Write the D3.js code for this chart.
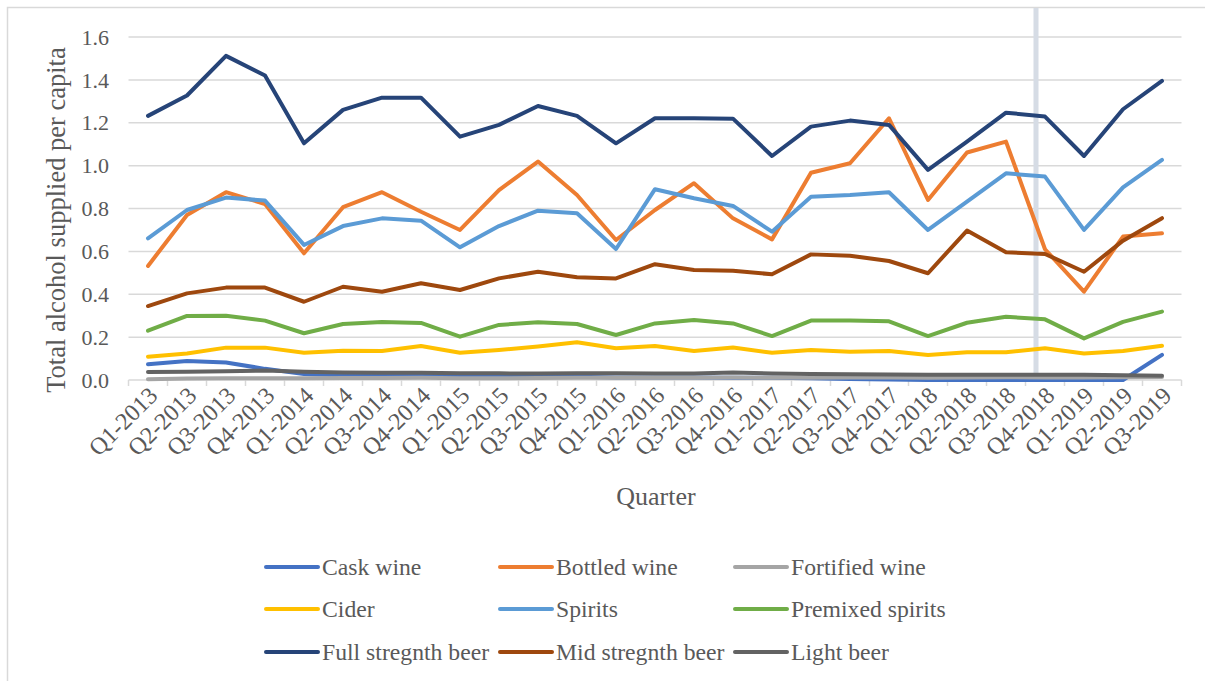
<!DOCTYPE html>
<html lang="en">
<head>
  <meta charset="UTF-8">
  <title>Total alcohol supplied per capita</title>
  <script src="https://d3js.org/d3.v7.min.js"></script>
  <style>
    body { margin: 0; background: #fff; }
    text { font-family: "Liberation Serif", "Times New Roman", serif; fill: #595959; }
  </style>
</head>
<body>
  <script>
    var quarters = ["Q1-2013","Q2-2013","Q3-2013","Q4-2013","Q1-2014","Q2-2014","Q3-2014","Q4-2014",
                    "Q1-2015","Q2-2015","Q3-2015","Q4-2015","Q1-2016","Q2-2016","Q3-2016","Q4-2016",
                    "Q1-2017","Q2-2017","Q3-2017","Q4-2017","Q1-2018","Q2-2018","Q3-2018","Q4-2018",
                    "Q1-2019","Q2-2019","Q3-2019"];

    var caskWine = [0.073,0.089,0.082,0.052,0.028,0.022,0.020,0.020,0.016,0.015,0.015,0.015,0.012,0.012,
                    0.012,0.010,0.010,0.008,0.005,0.002,0.000,0.000,0.000,0.000,0.000,0.000,0.117];
    var bottledWine = [0.532,0.770,0.876,0.821,0.591,0.806,0.876,0.785,0.700,0.886,1.019,0.863,0.653,0.793,
                       0.918,0.754,0.656,0.967,1.011,1.221,0.840,1.061,1.112,0.610,0.412,0.669,0.684];
    var fortifiedWine = [0.004,0.007,0.008,0.008,0.008,0.009,0.009,0.010,0.008,0.008,0.009,0.010,0.010,0.010,
                         0.011,0.012,0.010,0.010,0.012,0.012,0.011,0.012,0.013,0.012,0.012,0.013,0.014];
    var cider = [0.109,0.124,0.151,0.151,0.127,0.137,0.135,0.159,0.127,0.140,0.156,0.176,0.148,0.159,
                 0.135,0.152,0.127,0.140,0.132,0.135,0.117,0.129,0.129,0.148,0.124,0.135,0.160];
    var spirits = [0.661,0.793,0.851,0.837,0.630,0.718,0.754,0.743,0.619,0.718,0.790,0.778,0.611,0.890,
                   0.848,0.812,0.692,0.855,0.863,0.876,0.700,0.832,0.964,0.949,0.700,0.899,1.027];
    var premixedSpirits = [0.230,0.299,0.300,0.277,0.218,0.261,0.271,0.266,0.202,0.257,0.269,0.261,0.210,0.264,
                           0.280,0.264,0.205,0.277,0.278,0.274,0.205,0.267,0.295,0.283,0.194,0.271,0.319];
    var fullBeer = [1.232,1.327,1.512,1.420,1.104,1.260,1.317,1.317,1.135,1.190,1.278,1.232,1.104,1.221,
                    1.221,1.219,1.045,1.182,1.210,1.190,0.980,1.112,1.247,1.229,1.045,1.263,1.395];
    var midBeer = [0.345,0.404,0.431,0.431,0.365,0.435,0.412,0.451,0.420,0.474,0.505,0.479,0.474,0.540,
                   0.513,0.510,0.493,0.586,0.580,0.555,0.498,0.697,0.596,0.588,0.505,0.650,0.755];
    var lightBeer = [0.037,0.038,0.041,0.044,0.038,0.035,0.034,0.034,0.032,0.031,0.030,0.032,0.031,0.030,
                     0.030,0.035,0.030,0.028,0.027,0.026,0.025,0.025,0.025,0.025,0.024,0.022,0.020];

    var seriesNames = ["Cask wine","Bottled wine","Fortified wine","Cider","Spirits","Premixed spirits",
                       "Full stregnth beer","Mid stregnth beer","Light beer"];
    var seriesValues = [caskWine, bottledWine, fortifiedWine, cider, spirits, premixedSpirits,
                        fullBeer, midBeer, lightBeer];
    var seriesColors = ["#4472C4","#ED7D31","#A5A5A5","#FFC000","#5B9BD5","#70AD47",
                        "#264478","#9E480E","#636363"];
    var yTicks = [0, 0.2, 0.4, 0.6, 0.8, 1.0, 1.2, 1.4, 1.6];
    var markerQuarter = "Q4-2018";

    var series = seriesNames.map(function(name, i) {
      return { name: name, values: seriesValues[i], color: seriesColors[i] };
    });

    var width = 1205, height = 681;
    var svg = d3.select("body").append("svg")
                .attr("width", width)
                .attr("height", height);

    // chart frame
    svg.append("rect")
       .attr("x", 7.5).attr("y", 7.5)
       .attr("width", 1230).attr("height", 700)
       .style("fill", "none")
       .style("stroke", "#D9D9D9")
       .style("stroke-width", 1.5);

    var x = d3.scalePoint().domain(quarters).range([148, 1162]);
    var step = x.step();
    var y = d3.scaleLinear().domain([0, 1.6]).range([380, 37]);
    var left = x(quarters[0]) - step / 2;
    var right = x(quarters[quarters.length - 1]) + step / 2;

    // gridlines
    svg.append("g")
       .selectAll("line")
       .data(yTicks)
       .enter()
       .append("line")
       .attr("x1", left).attr("x2", right)
       .attr("y1", d => y(d)).attr("y2", d => y(d))
       .style("stroke", "#D9D9D9")
       .style("stroke-width", 1.5);

    // y tick labels
    svg.append("g")
       .selectAll("text")
       .data(yTicks)
       .enter()
       .append("text")
       .attr("x", 109)
       .attr("y", d => y(d))
       .attr("dy", "0.35em")
       .attr("text-anchor", "end")
       .style("font-size", "22px")
       .text(d => d.toFixed(1));

    // x axis: tick marks sit between categories
    svg.append("g")
       .selectAll("line")
       .data(d3.range(quarters.length + 1))
       .enter()
       .append("line")
       .attr("x1", i => left + i * step).attr("x2", i => left + i * step)
       .attr("y1", 380).attr("y2", 386)
       .style("stroke", "#D9D9D9")
       .style("stroke-width", 1.5);

    svg.append("g")
       .selectAll("text")
       .data(quarters)
       .enter()
       .append("text")
       .attr("text-anchor", "end")
       .attr("transform", d => "translate(" + (x(d) + 5) + ",391) rotate(-45)")
       .attr("dy", "0.35em")
       .style("font-size", "24px")
       .text(d => d);

    // vertical marker
    svg.append("line")
       .attr("x1", x(markerQuarter) - 9).attr("x2", x(markerQuarter) - 9)
       .attr("y1", 8).attr("y2", 379)
       .style("stroke", "#D6DCE5")
       .style("stroke-width", 5);

    // lines
    var line = d3.line()
                 .x((d, i) => x(quarters[i]))
                 .y(d => y(d));

    svg.append("g")
       .selectAll("path")
       .data(series)
       .enter()
       .append("path")
       .attr("d", d => line(d.values))
       .style("fill", "none")
       .style("stroke", d => d.color)
       .style("stroke-width", 4)
       .style("stroke-linecap", "round")
       .style("stroke-linejoin", "round");

    // axis titles
    svg.append("text")
       .attr("transform", "translate(65,220) rotate(-90)")
       .attr("text-anchor", "middle")
       .style("font-size", "26.5px")
       .text("Total alcohol supplied per capita");

    svg.append("text")
       .attr("x", 656).attr("y", 505)
       .attr("text-anchor", "middle")
       .style("font-size", "26px")
       .text("Quarter");

    // legend
    var colX = [264, 498, 733];
    var rowY = [567, 609, 652];
    var legend = svg.append("g")
                    .selectAll("g")
                    .data(series)
                    .enter()
                    .append("g")
                    .attr("transform", (d, i) => "translate(" + colX[i % 3] + "," + rowY[Math.floor(i / 3)] + ")");

    legend.append("line")
          .attr("x1", 2).attr("x2", 54)
          .attr("y1", 0).attr("y2", 0)
          .style("stroke", d => d.color)
          .style("stroke-width", 4)
          .style("stroke-linecap", "round");

    legend.append("text")
          .attr("x", 58)
          .attr("dy", "0.35em")
          .style("font-size", "23.7px")
          .text(d => d.name);
  </script>
</body>
</html>
